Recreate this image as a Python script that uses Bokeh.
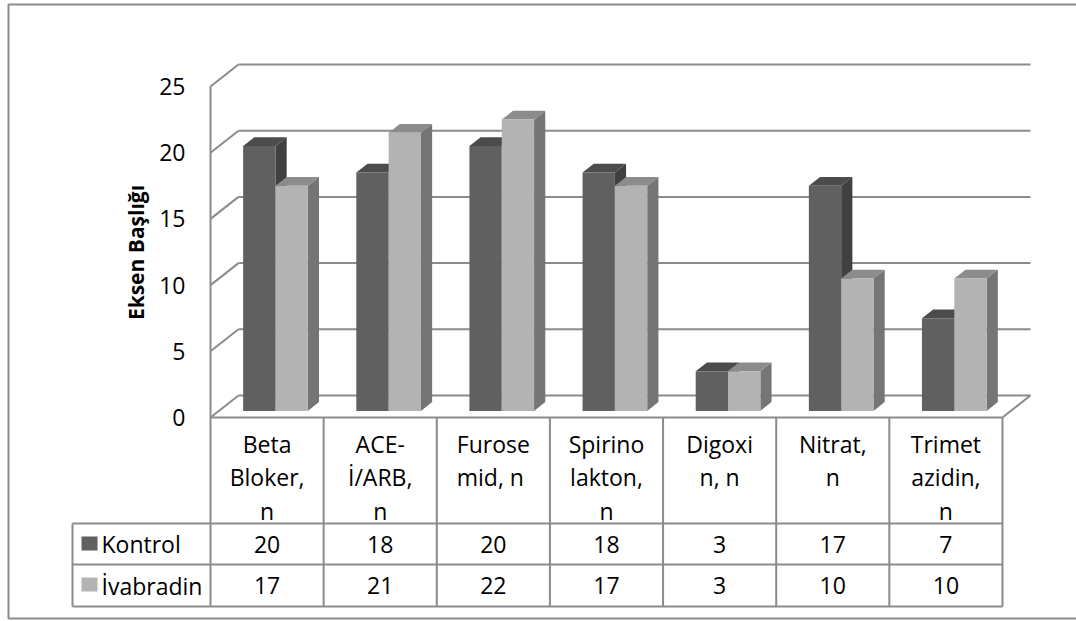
from math import pi

from bokeh.plotting import figure
from bokeh.models import Range1d
from bokeh.core.properties import value
from bokeh.embed import file_html
from bokeh.resources import INLINE

# ---- data -------------------------------------------------------------
categories = [
    "Beta\nBloker,\nn",
    "ACE-\nİ/ARB,\nn",
    "Furose\nmid,  n",
    "Spirino\nlakton,\nn",
    "Digoxi\nn, n",
    "Nitrat,\nn",
    "Trimet\nazidin,\nn",
]
series_names = ["Kontrol", "İvabradin"]
kontrol = [20, 18, 20, 18, 3, 17, 7]
ivabradin = [17, 21, 22, 17, 3, 10, 10]
y_ticks = [0, 5, 10, 15, 20, 25]
axis_title = "Eksen Başlığı"

# ---- look -------------------------------------------------------------
W, H = 1076, 621
ORIGIN_X, ORIGIN_Y = 210.0, 417.0      # canvas position of (category 0, value 0)
CAT_PX, UNIT_PX = 113.14, 13.24         # pixels per category / per unit
DEPTH_X = 28.0 / CAT_PX                 # 3-D depth vector in data units
DEPTH_Y = 22.0 / UNIT_PX
FONT = "Open Sans"
LINE = "#8b8b8b"
FRONT = ["#606060", "#b3b3b3"]
SIDE = ["#404040", "#757575"]
TOP = ["#4c4c4c", "#8c8c8c"]


def fx(px):
    return (px - ORIGIN_X) / CAT_PX


def fy(px):
    return (ORIGIN_Y - px) / UNIT_PX


n = len(categories)
p = figure(
    width=W, height=H,
    x_range=Range1d(fx(0), fx(W)), y_range=Range1d(fy(H), fy(0)),
    output_backend="svg", toolbar_location=None,
    x_axis_type=None, y_axis_type=None,
    min_border=0, outline_line_color=None,
    background_fill_color="white", border_fill_color="white",
)

# ---- walls and floor --------------------------------------------------
top_v = y_ticks[-1]
p.multi_line(
    xs=[[DEPTH_X, n + DEPTH_X] for _ in y_ticks],
    ys=[[v + DEPTH_Y, v + DEPTH_Y] for v in y_ticks],
    line_color=LINE, line_width=2,
)
p.multi_line(
    xs=[[0, DEPTH_X] for _ in y_ticks],
    ys=[[v, v + DEPTH_Y] for v in y_ticks],
    line_color=LINE, line_width=2,
)
p.line([0, 0], [0, top_v], line_color=LINE, line_width=2)
p.line([n, n + DEPTH_X], [0, DEPTH_Y], line_color=LINE, line_width=2)

# ---- 3-D columns ------------------------------------------------------
bar_w = 1 / 3.5
gap = 0.75 * bar_w
d0, d1 = 0.3, 0.7
ddx, ddy = (d1 - d0) * DEPTH_X, (d1 - d0) * DEPTH_Y
for s, vals in enumerate([kontrol, ivabradin]):
    side_x, side_y, top_x, top_y = [], [], [], []
    lefts, rights, bottoms, tops = [], [], [], []
    for i, v in enumerate(vals):
        x0 = i + gap + s * bar_w + d0 * DEPTH_X
        x1 = x0 + bar_w
        b = d0 * DEPTH_Y
        t = v + d0 * DEPTH_Y
        side_x.append([x1, x1 + ddx, x1 + ddx, x1])
        side_y.append([b, b + ddy, t + ddy, t])
        top_x.append([x0, x1, x1 + ddx, x0 + ddx])
        top_y.append([t, t, t + ddy, t + ddy])
        lefts.append(x0)
        rights.append(x1)
        bottoms.append(b)
        tops.append(t)
    p.patches(side_x, side_y, fill_color=SIDE[s], line_color=None)
    p.patches(top_x, top_y, fill_color=TOP[s], line_color=None)
    p.quad(left=lefts, right=rights, bottom=bottoms, top=tops,
           fill_color=FRONT[s], line_color=None)

# ---- data table -------------------------------------------------------
row_tops = [fy(523), fy(564), fy(606)]
legend_left = fx(72)
p.multi_line(
    xs=[[0, n]] + [[legend_left, n] for _ in row_tops],
    ys=[[0, 0]] + [[r, r] for r in row_tops],
    line_color=LINE, line_width=2,
)
p.multi_line(
    xs=[[k, k] for k in range(1, n + 1)] + [[0, 0], [legend_left, legend_left]],
    ys=[[0, row_tops[-1]] for _ in range(1, n + 1)]
    + [[0, row_tops[-1]], [row_tops[0], row_tops[-1]]],
    line_color=LINE, line_width=2,
)

# category headers, one text per line
hx, hy, ht = [], [], []
for i, label in enumerate(categories):
    for j, part in enumerate(label.split("\n")):
        hx.append(i + 0.5)
        hy.append(fy(443 + 33.5 * j))
        ht.append(part)
p.text(hx, hy, text=ht, text_align="center", text_baseline="middle",
       text_font=value(FONT), text_font_size="23px", text_color="black")

row_centers = [fy(543.5), fy(585)]
for s, vals in enumerate([kontrol, ivabradin]):
    p.text([i + 0.5 for i in range(n)], [row_centers[s]] * n,
           text=[str(v) for v in vals], text_align="center",
           text_baseline="middle", text_font=value(FONT),
           text_font_size="23px", text_color="black")

# legend keys inside the table
p.quad(left=[fx(81)] * 2, right=[fx(97)] * 2,
       top=[fy(536), fy(577)], bottom=[fy(550), fy(591)],
       fill_color=FRONT, line_color=None)
p.text([fx(101)] * 2, row_centers, text=series_names, text_align="left",
       text_baseline="middle", text_font=value(FONT),
       text_font_size="23px", text_color="black")

# ---- value axis labels ------------------------------------------------
p.text([fx(185)] * len(y_ticks), y_ticks, text=[str(v) for v in y_ticks],
       text_align="right", text_baseline="middle", text_font=value(FONT),
       text_font_size="23px", text_color="black")
p.text([fx(135)], [fy(252)], text=[axis_title], angle=pi / 2,
       text_align="center", text_baseline="middle", text_font=value(FONT),
       text_font_size="21px", text_font_style="bold", text_color="black")

# ---- chart border -----------------------------------------------------
p.quad(left=[fx(8)], right=[fx(1080)], top=[fy(4)], bottom=[fy(618)],
       fill_color=None, line_color=LINE, line_width=2)

open("out.html", "w").write(file_html(p, INLINE))
